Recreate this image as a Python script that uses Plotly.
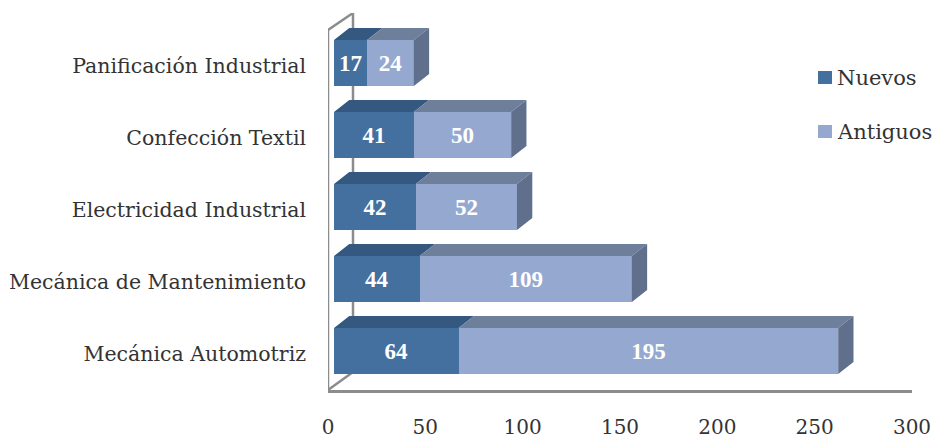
import plotly.graph_objects as go

categories = ["Mecánica Automotriz", "Mecánica de Mantenimiento", "Electricidad Industrial",
              "Confección Textil", "Panificación Industrial"]
nuevos = [64, 44, 42, 41, 17]
antiguos = [195, 109, 52, 50, 24]
series_names = ["Nuevos", "Antiguos"]

W, H = 933, 438
L, R, T, B = 328, 21, 13, 48
PX_X = (W - L - R) / 300
PX_Y = 72
BAR_W = 46 / PX_Y
DX = 15.3 / PX_X
DY = 12 / PX_Y
Y0 = -39 / PX_Y
Y1 = Y0 + (H - T - B) / PX_Y
SHIFT = 6 / PX_X
ypos = list(range(len(categories)))

C_NEW, C_NEW_TOP = "#44709F", "#34587F"
C_OLD, C_OLD_TOP, C_OLD_SIDE = "#95A9D0", "#6E7F9C", "#5F6F8C"
TEXT = "#333333"
WALL = "#8C8C8C"


def poly(points_list):
    xs, ys = [], []
    for pts in points_list:
        for a, b in pts:
            xs.append(a)
            ys.append(b)
        xs.append(pts[0][0])
        ys.append(pts[0][1])
        xs.append(None)
        ys.append(None)
    return xs, ys


top_new, top_old, side = [], [], []
for i, (a, b) in enumerate(zip(nuevos, antiguos)):
    t = i + BAR_W / 2
    u = i - BAR_W / 2
    top_new.append([(0, t), (a, t), (a + DX, t + DY), (DX, t + DY)])
    top_old.append([(a, t), (a + b, t), (a + b + DX, t + DY), (a + DX, t + DY)])
    side.append([(a + b, u), (a + b, t), (a + b + DX, t + DY), (a + b + DX, u + DY)])

fig = go.Figure()
for name, vals, col in [(series_names[0], nuevos, C_NEW), (series_names[1], antiguos, C_OLD)]:
    fig.add_trace(go.Bar(
        name=name, y=ypos, x=vals, orientation="h", width=BAR_W, xaxis="x2", yaxis="y",
        marker=dict(color=col, line=dict(width=0)), showlegend=False,
        text=[str(v) for v in vals], textposition="inside", insidetextanchor="middle",
        textangle=0, constraintext="none",
        textfont=dict(family="Liberation Serif", size=23, color="white", weight="bold"),
        hoverinfo="skip",
    ))
for pts, col in [(top_new, C_NEW_TOP), (top_old, C_OLD_TOP), (side, C_OLD_SIDE)]:
    xs, ys = poly(pts)
    fig.add_trace(go.Scatter(
        x=xs, y=ys, xaxis="x2", yaxis="y", mode="lines", fill="toself", fillcolor=col,
        line=dict(width=0, color=col), showlegend=False, hoverinfo="skip",
    ))
# dummy trace on the visible axis so that it is rendered
fig.add_trace(go.Scatter(x=[0, 300], y=[0, 0], mode="markers", marker=dict(opacity=0),
                         showlegend=False, hoverinfo="skip", xaxis="x", yaxis="y"))

wx = 25 / PX_X
wy = 18 / PX_Y
top_line = Y1 - 17 / PX_Y
line = dict(color=WALL, width=2.5)
fig.add_shape(type="line", x0=0, x1=0, y0=Y0, y1=top_line, xref="x", yref="y", line=line, layer="below")
fig.add_shape(type="line", x0=0, x1=wx, y0=top_line, y1=Y1, xref="x", yref="y", line=line, layer="below")
fig.add_shape(type="line", x0=wx, x1=wx, y0=Y0 + wy, y1=Y1, xref="x", yref="y", line=line, layer="below")
fig.add_shape(type="line", x0=0, x1=wx, y0=Y0, y1=Y0 + wy, xref="x", yref="y", line=line, layer="below")

# legend: swatch and text placed to match the reference spacing
for name, col, yc in [(series_names[0], C_NEW, 77.5), (series_names[1], C_OLD, 131.5)]:
    fig.add_shape(type="rect", xref="paper", yref="paper", x0=(818 - L) / (W - L - R), x1=(832 - L) / (W - L - R),
                  y0=1 - (yc + 6.5 - T) / (H - T - B), y1=1 - (yc - 6.5 - T) / (H - T - B),
                  fillcolor=col, line=dict(width=0), layer="above")
    fig.add_annotation(xref="paper", yref="paper", x=(836 - L) / (W - L - R), y=1 - (yc - T) / (H - T - B),
                       text=name, showarrow=False, xanchor="left", yanchor="middle", borderpad=0,
                       font=dict(family="DejaVu Serif", size=21, color=TEXT))

fig.update_layout(
    width=W, height=H, autosize=False, barmode="stack", paper_bgcolor="white", plot_bgcolor="white",
    margin=dict(l=L, r=R, t=T, b=B, pad=0, autoexpand=False),
    font=dict(family="DejaVu Serif", size=20, color=TEXT),
    showlegend=False,
    xaxis=dict(range=[0, 300], tickvals=[0, 50, 100, 150, 200, 250, 300], showgrid=False, zeroline=False,
               showline=True, linecolor=WALL, linewidth=2.5, ticks="", ticklabelstandoff=17,
               tickfont=dict(family="DejaVu Serif", size=20, color=TEXT)),
    xaxis2=dict(range=[-SHIFT, 300 - SHIFT], overlaying="x", visible=False, anchor="y"),
    yaxis=dict(range=[Y0, Y1], tickvals=ypos, ticktext=categories, showgrid=False, zeroline=False,
               showline=False, ticks="", ticklabelstandoff=21, ticklabelshift=3,
               tickfont=dict(family="DejaVu Serif", size=20.5, color=TEXT)),
)
fig.write_html("out.html", config=dict(displayModeBar=False),
               post_script="document.body.style.margin='0';document.documentElement.style.overflow='hidden';")
